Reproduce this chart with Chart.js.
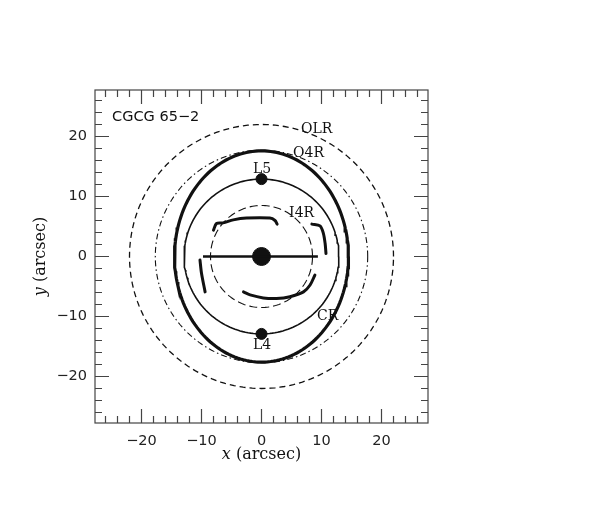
<!DOCTYPE html>
<html lang="en">
<head>
<meta charset="UTF-8">
<title>CGCG 65-2 resonances</title>
<script src="https://cdn.jsdelivr.net/npm/chart.js"></script>
<style>
  body { margin: 0; background: #fff; }
</style>
</head>
<body>
<canvas id="orbitChart" width="598" height="506"></canvas>
<script>
// axis setup (arcsec)
const tickValues = [-20, -10, 0, 10, 20];
const axisLimit = 27.75;

// resonance circles, radius in arcsec
const resonanceNames = ['OLR', 'O4R', 'CR', 'I4R'];
const resonanceRadii = [22.0, 17.7, 12.9, 8.5];

// thick oval (semi-axis x, semi-axis y)
const ovalSemiAxes = [14.5, 17.6];

// bar
const barX = [-9.75, 9.4];
const barY = [0, 0];

// Lagrange points
const lagrangeNames = ['L5', 'L4'];
const lagrangeX = [0, 0];
const lagrangeY = [12.9, -12.9];

// spiral arm segments
const armTopX = [-8.0, -7.5, -6.4, -4.7, -2.5, 1.4, 2.25, 2.6];
const armTopY = [4.4, 5.5, 5.6, 6.1, 6.4, 6.4, 6.0, 5.4];
const armRightX = [8.4, 9.75, 10.3, 10.6, 10.75];
const armRightY = [5.4, 5.1, 3.9, 2.2, 0.5];
const armLeftX = [-10.25, -10.0, -9.4];
const armLeftY = [-0.6, -2.8, -5.9];
const armBottomX = [-3.0, -1.9, 0.3, 2.5, 4.75, 7.0, 8.1, 8.9];
const armBottomY = [-5.9, -6.4, -6.9, -7.0, -6.7, -5.9, -4.75, -3.1];

function pairs(xs, ys) {
  return xs.map((x, i) => ({ x: x, y: ys[i] }));
}

function ring(rx, ry) {
  const pts = [];
  for (let i = 0; i <= 180; i++) {
    const t = i / 180 * 2 * Math.PI;
    pts.push({ x: rx * Math.cos(t), y: ry * Math.sin(t) });
  }
  return pts;
}

const ink = '#111';
const ringStyles = {
  OLR: { borderWidth: 1.3, borderDash: [6, 4] },
  O4R: { borderWidth: 1.1, borderDash: [6, 3, 1.5, 3] },
  CR:  { borderWidth: 1.6, borderDash: [] },
  I4R: { borderWidth: 1.1, borderDash: [8, 4] }
};

const lineSet = (data, extra) => Object.assign({
  data: data,
  showLine: true,
  fill: false,
  borderColor: ink,
  pointRadius: 0,
  tension: 0
}, extra);

const datasets = [];
resonanceNames.forEach((name, i) => {
  datasets.push(lineSet(ring(resonanceRadii[i], resonanceRadii[i]), Object.assign({ label: name }, ringStyles[name])));
});
datasets.push(lineSet(ring(ovalSemiAxes[0], ovalSemiAxes[1]), { label: 'oval', borderWidth: 3.2 }));
datasets.push(lineSet(pairs(barX, barY), { label: 'bar', borderWidth: 2.6 }));
[[armTopX, armTopY], [armRightX, armRightY], [armLeftX, armLeftY], [armBottomX, armBottomY]].forEach((a, i) => {
  datasets.push(lineSet(pairs(a[0], a[1]), { label: 'arm' + i, borderWidth: 3, tension: 0.3, borderCapStyle: 'round' }));
});
datasets.push({
  label: 'Lagrange',
  data: pairs(lagrangeX, lagrangeY),
  showLine: false,
  pointRadius: 5.5,
  backgroundColor: ink,
  borderColor: ink
});
datasets.push({
  label: 'nucleus',
  data: [{ x: 0, y: 0 }],
  showLine: false,
  pointRadius: 9,
  backgroundColor: ink,
  borderColor: ink
});

// text annotations in data coordinates
const notes = [
  { text: 'OLR', x: 6.6, y: 20.6, align: 'left' },
  { text: 'O4R', x: 5.25, y: 16.6, align: 'left' },
  { text: lagrangeNames[0], x: 0.1, y: 13.9, align: 'center' },
  { text: 'I4R', x: 4.6, y: 6.6, align: 'left' },
  { text: 'CR', x: 9.25, y: -10.6, align: 'left' },
  { text: lagrangeNames[1], x: 0.1, y: -15.4, align: 'center' }
];

const minus = v => String(v).replace('-', '\u2212');

const framePlugin = {
  id: 'frame',
  afterDraw(chart) {
    const ctx = chart.ctx;
    const xs = chart.scales.x, ys = chart.scales.y;
    const a = chart.chartArea;
    ctx.save();
    ctx.strokeStyle = '#444';
    ctx.lineWidth = 1.2;
    ctx.strokeRect(a.left, a.top, a.right - a.left, a.bottom - a.top);
    ctx.beginPath();
    for (let v = -26; v <= 26; v += 2) {
      const len = v % 10 === 0 ? 14 : 7;
      const px = xs.getPixelForValue(v);
      const py = ys.getPixelForValue(v);
      ctx.moveTo(px, a.bottom); ctx.lineTo(px, a.bottom - len);
      ctx.moveTo(px, a.top); ctx.lineTo(px, a.top + len);
      ctx.moveTo(a.left, py); ctx.lineTo(a.left + len, py);
      ctx.moveTo(a.right, py); ctx.lineTo(a.right - len, py);
    }
    ctx.stroke();

    // title inside the frame
    ctx.fillStyle = ink;
    ctx.font = '14.5px "DejaVu Sans"';
    ctx.textAlign = 'left';
    ctx.textBaseline = 'alphabetic';
    ctx.fillText('CGCG 65\u22122', xs.getPixelForValue(-24.9), ys.getPixelForValue(22.6));

    // resonance labels
    ctx.font = '14px "DejaVu Serif"';
    notes.forEach(n => {
      ctx.textAlign = n.align;
      ctx.fillText(n.text, xs.getPixelForValue(n.x), ys.getPixelForValue(n.y));
    });

    // axis titles with italic variable
    const drawTitle = (variable, cx, cy) => {
      ctx.font = 'italic 16px "DejaVu Serif"';
      const w1 = ctx.measureText(variable).width;
      ctx.font = '16px "DejaVu Serif"';
      const rest = ' (arcsec)';
      const w2 = ctx.measureText(rest).width;
      const start = cx - (w1 + w2) / 2;
      ctx.textAlign = 'left';
      ctx.font = 'italic 16px "DejaVu Serif"';
      ctx.fillText(variable, start, cy);
      ctx.font = '16px "DejaVu Serif"';
      ctx.fillText(rest, start + w1, cy);
    };
    drawTitle('x', xs.getPixelForValue(0), 459);
    ctx.save();
    ctx.translate(45, ys.getPixelForValue(0));
    ctx.rotate(-Math.PI / 2);
    drawTitle('y', 0, 0);
    ctx.restore();
    ctx.restore();
  }
};

const axisOptions = (fitSize, padding) => ({
  type: 'linear',
  min: -axisLimit,
  max: axisLimit,
  grid: { display: false, drawTicks: false },
  border: { display: false },
  afterBuildTicks: scale => { scale.ticks = tickValues.map(v => ({ value: v })); },
  afterFit: fitSize,
  ticks: {
    padding: padding,
    color: '#222',
    font: { family: 'DejaVu Sans', size: 14.5 },
    callback: v => minus(v)
  }
});

new Chart(document.getElementById('orbitChart').getContext('2d'), {
  type: 'scatter',
  data: { datasets: datasets },
  options: {
    responsive: false,
    animation: false,
    layout: { padding: { top: 90, right: 170, left: 0, bottom: 0 } },
    plugins: { legend: { display: false }, tooltip: { enabled: false } },
    scales: {
      x: axisOptions(s => { s.height = 83; }, 10),
      y: axisOptions(s => { s.width = 95; }, 8)
    }
  },
  plugins: [framePlugin]
});
</script>
</body>
</html>
